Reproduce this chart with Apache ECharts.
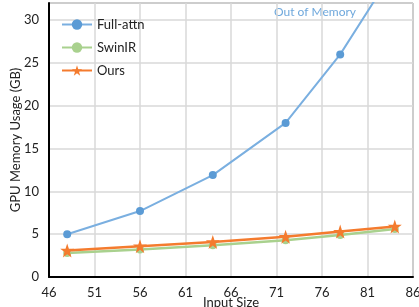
<!DOCTYPE html>
<html>
<head>
<meta charset="utf-8">
<script src="https://cdn.jsdelivr.net/npm/echarts@6/dist/echarts.min.js"></script>
<style>
  html, body { margin: 0; padding: 0; background: #fff; }
  #chart { width: 419px; height: 307px; }
</style>
</head>
<body>
<div id="chart"></div>
<script>
// input sizes
var inputSizes = [48, 56, 64, 72, 78, 84];
// memory usage (GB)
var fullAttn = [5.0, 7.7, 11.9, 18.0, 26.0, 36.0];
var swinIR = [2.8, 3.2, 3.7, 4.3, 4.9, 5.6];
var ours = [3.1, 3.6, 4.1, 4.7, 5.3, 5.9];

function pairs(vals) {
  return inputSizes.map(function (x, i) { return [x, vals[i]]; });
}

var chart = echarts.init(document.getElementById('chart'));
var font = 'Lato';

var option = {
  animation: false,
  textStyle: { fontFamily: font },
  grid: {
    left: 49, right: 6, top: 3, bottom: 30,
    outerBoundsMode: 'none',
    containLabel: false,
    show: true, borderColor: '#595959', borderWidth: 1
  },
  legend: {
    orient: 'vertical',
    left: 56, top: 13,
    itemGap: 10,
    itemWidth: 30, itemHeight: 13,
    textStyle: { fontSize: 13, color: '#222', fontFamily: font },
    data: ['Full-attn', 'SwinIR', 'Ours']
  },
  xAxis: {
    type: 'value',
    min: 46, max: 86, interval: 5,
    name: 'Input Size',
    nameLocation: 'middle',
    nameGap: 19,
    nameMoveOverlap: false,
    nameTextStyle: { fontSize: 13, color: '#222' },
    axisLine: { lineStyle: { color: '#000', width: 2 } },
    axisTick: { show: false },
    axisLabel: { fontSize: 13, color: '#222', margin: 9 },
    splitLine: { lineStyle: { color: '#d9d9d9', width: 1.5 } }
  },
  yAxis: {
    type: 'value',
    min: 0, max: 32, interval: 5,
    name: 'GPU Memory Usage (GB)',
    nameLocation: 'middle',
    nameGap: 27,
    nameMoveOverlap: false,
    nameTextStyle: { fontSize: 13, color: '#222' },
    axisLine: { show: true, lineStyle: { color: '#000', width: 2 } },
    axisTick: { show: false },
    axisLabel: {
      fontSize: 13, color: '#222', margin: 10,
      formatter: function (v) { return v % 5 === 0 ? String(v) : ''; }
    },
    splitLine: { lineStyle: { color: '#d9d9d9', width: 1.5 } }
  },
  series: [
    {
      name: 'Full-attn', type: 'line',
      data: pairs(fullAttn),
      symbol: 'circle', symbolSize: 8,
      lineStyle: { color: '#7aafe0', width: 2 },
      itemStyle: { color: '#5b9bd5' },
      clip: true
    },
    {
      name: 'SwinIR', type: 'line',
      data: pairs(swinIR),
      symbol: 'circle', symbolSize: 8,
      lineStyle: { color: '#a9d18e', width: 2.5 },
      itemStyle: { color: '#a9d18e' }
    },
    {
      name: 'Ours', type: 'line',
      data: pairs(ours),
      symbol: 'path://M12,0 L14.9,8.6 L24,8.6 L16.6,14 L19.4,22.8 L12,17.4 L4.6,22.8 L7.4,14 L0,8.6 L9.1,8.6 Z',
      symbolSize: 14,
      lineStyle: { color: '#f47b2e', width: 2.5 },
      itemStyle: { color: '#f47b2e' }
    }
  ],
  graphic: [{
    type: 'text',
    left: 274, top: 6,
    style: { text: 'Out of Memory', fontSize: 12, fill: '#6fa8dc', fontFamily: font }
  }]
};

chart.setOption(option);
</script>
</body>
</html>
